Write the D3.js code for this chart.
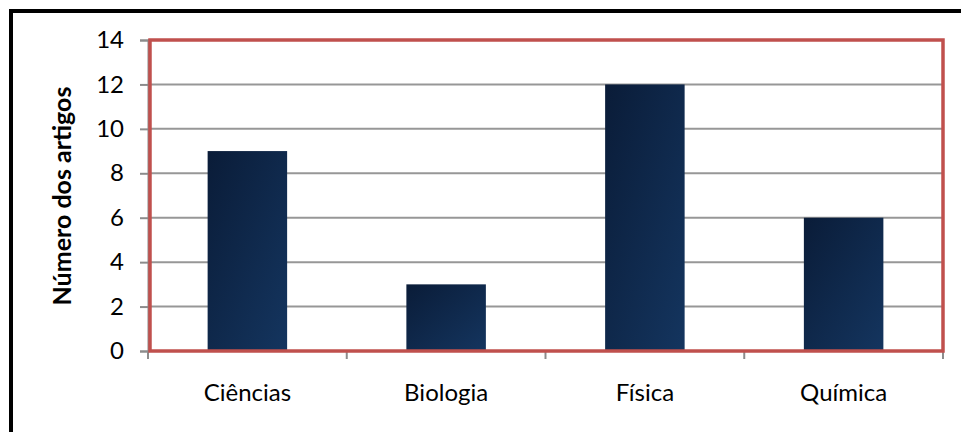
<!DOCTYPE html>
<html>
<head>
<meta charset="utf-8">
<script src="https://cdn.jsdelivr.net/npm/d3@7"></script>
<style>
  body { margin: 0; background: #fff; }
  text { font-family: Lato, "Open Sans", sans-serif; fill: #000; }
</style>
</head>
<body>
<div id="canvas"></div>
<script>
const categories = ["Ciências", "Biologia", "Física", "Química"]
const values = [9, 3, 12, 6]
const yTicks = [0, 2, 4, 6, 8, 10, 12, 14]
const yTitle = "Número dos artigos"

const width = 961
const height = 432
const margin = {top: 40, left: 148, bottom: 81, right: 18}
const iwidth = width - margin.left - margin.right
const iheight = height - margin.top - margin.bottom

const svg = d3.select("#canvas").append("svg")
  .attr("width", width)
  .attr("height", height)

// outer chart border (left + top visible)
svg.append("path")
  .attr("d", `M11,432 L11,11 L961,11`)
  .attr("fill", "none")
  .attr("stroke", "#000")
  .attr("stroke-width", 4)

const defs = svg.append("defs")
const grad = defs.append("linearGradient")
  .attr("id", "barGrad")
  .attr("x1", "0%").attr("y1", "0%")
  .attr("x2", "100%").attr("y2", "100%")
grad.append("stop").attr("offset", "0%").attr("stop-color", "#0a1c38")
grad.append("stop").attr("offset", "100%").attr("stop-color", "#14355f")

const g = svg.append("g").attr("transform", `translate(${margin.left},${margin.top})`)

const x = d3.scaleBand()
  .domain(categories)
  .range([0, iwidth])
  .padding(0)

const y = d3.scaleLinear()
  .domain([0, 14])
  .range([iheight, 0])

// gridlines
g.append("g")
  .selectAll("line")
  .data(yTicks.filter(t => t > 0))
  .enter().append("line")
  .attr("x1", 0).attr("x2", iwidth)
  .attr("y1", d => y(d)).attr("y2", d => y(d))
  .attr("stroke", "#979797")
  .attr("stroke-width", 2)

// y axis
const yAxis = g.append("g")
  .call(d3.axisLeft(y).tickValues(yTicks).tickSize(8).tickPadding(16))
yAxis.selectAll("line").attr("stroke", "#8c8c8c").attr("stroke-width", 2)
yAxis.select(".domain").attr("stroke", "#8c8c8c").attr("stroke-width", 2)
yAxis.selectAll("text").style("font-size", "24px")

// x axis with ticks on band boundaries
const xAxis = g.append("g").attr("transform", `translate(0,${iheight})`)
xAxis.append("line")
  .attr("x1", 0).attr("x2", iwidth)
  .attr("stroke", "#8c8c8c").attr("stroke-width", 2)
xAxis.selectAll(".bound")
  .data(categories.map(c => x(c)).concat([iwidth]))
  .enter().append("line")
  .attr("class", "bound")
  .attr("x1", d => d).attr("x2", d => d)
  .attr("y1", 0).attr("y2", 8)
  .attr("stroke", "#8c8c8c").attr("stroke-width", 2)
xAxis.selectAll(".lab")
  .data(categories)
  .enter().append("text")
  .attr("class", "lab")
  .attr("x", d => x(d) + x.bandwidth() / 2)
  .attr("y", 42)
  .attr("dy", "0.35em")
  .attr("text-anchor", "middle")
  .style("font-size", "24px")
  .text(d => d)

// bars
const barW = x.bandwidth() * 0.4
g.selectAll(".bar")
  .data(categories.map((c, i) => ({name: c, value: values[i]})))
  .enter().append("rect")
  .attr("class", "bar")
  .attr("x", d => x(d.name) + (x.bandwidth() - barW) / 2)
  .attr("y", d => y(d.value))
  .attr("width", barW)
  .attr("height", d => iheight - y(d.value))
  .attr("fill", "url(#barGrad)")

// red plot-area frame
g.append("rect")
  .attr("x", 2).attr("y", 0)
  .attr("width", iwidth - 2).attr("height", iheight)
  .attr("fill", "none")
  .attr("stroke", "#c0504d")
  .attr("stroke-width", 3.5)

// y title
svg.append("text")
  .attr("transform", `translate(62,196) rotate(-90)`)
  .attr("text-anchor", "middle")
  .attr("dy", "0.35em")
  .style("font-size", "25px")
  .style("font-weight", "bold")
  .text(yTitle)
</script>
</body>
</html>
